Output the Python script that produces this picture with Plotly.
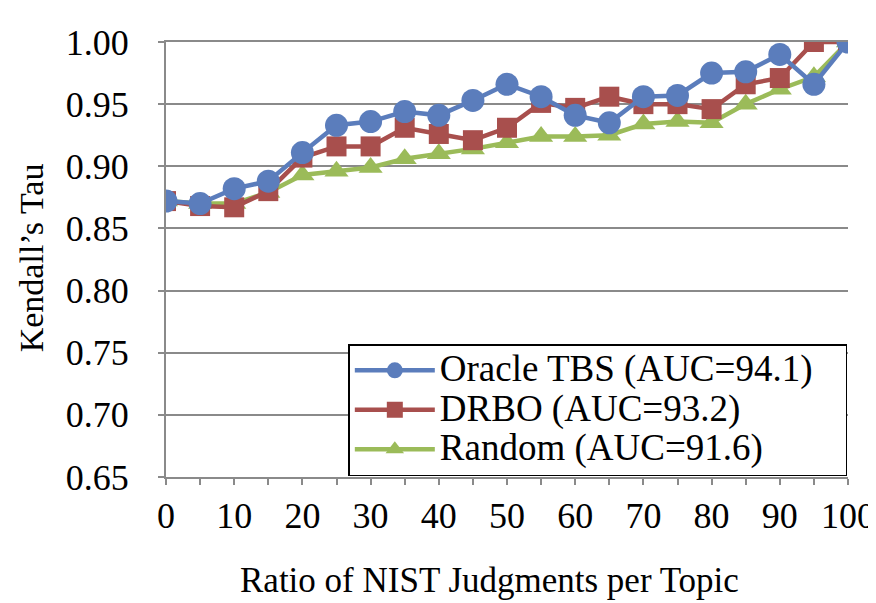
import plotly.graph_objects as go

ratios = [0, 5, 10, 15, 20, 25, 30, 35, 40, 45, 50, 55, 60, 65, 70, 75, 80, 85, 90, 95, 100]
oracle_tbs = [0.872, 0.870, 0.882, 0.888, 0.911, 0.933, 0.936, 0.944, 0.941, 0.953, 0.966,
              0.956, 0.941, 0.935, 0.956, 0.957, 0.975, 0.976, 0.990, 0.966, 1.000]
drbo = [0.872, 0.868, 0.867, 0.880, 0.907, 0.916, 0.916, 0.931, 0.926, 0.921, 0.931,
        0.951, 0.947, 0.956, 0.950, 0.950, 0.946, 0.966, 0.971, 1.000, 1.000]
random_sel = [0.872, 0.870, 0.870, 0.879, 0.893, 0.896, 0.899, 0.906, 0.910, 0.914, 0.919,
              0.924, 0.924, 0.925, 0.934, 0.936, 0.935, 0.950, 0.962, 0.972, 1.000]

names = ["Oracle TBS (AUC=94.1)", "DRBO (AUC=93.2)", "Random (AUC=91.6)"]
y_ticks = [0.65, 0.70, 0.75, 0.80, 0.85, 0.90, 0.95, 1.00]
x_ticks = [0, 10, 20, 30, 40, 50, 60, 70, 80, 90, 100]
x_title = "Ratio of NIST Judgments per Topic"
y_title = "Kendall’s Tau"

FONT = "Liberation Serif"
GRID = "#8a8a8a"


def legend_label(s):
    return '<span style="font-size:37px">' + s + '&nbsp;&nbsp;&nbsp;</span>'


fig = go.Figure()
fig.add_trace(go.Scatter(x=ratios, y=random_sel, name=legend_label(names[2]), mode="lines+markers",
                         line=dict(color="#9BBB59", width=4.5),
                         marker=dict(symbol="triangle-up", size=21, color="#9BBB59")))
fig.add_trace(go.Scatter(x=ratios, y=drbo, name=legend_label(names[1]), mode="lines+markers",
                         line=dict(color="#A84F4D", width=4.5),
                         marker=dict(symbol="square", size=20, color="#A84F4D")))
fig.add_trace(go.Scatter(x=ratios, y=oracle_tbs, name=legend_label(names[0]), mode="lines+markers",
                         line=dict(color="#5B7DBC", width=4.5),
                         marker=dict(symbol="circle", size=23, color="#5B7DBC")))

fig.add_annotation(text=x_title, xref="paper", yref="paper", x=0.475, y=-0.239,
                   xanchor="center", yanchor="middle", showarrow=False,
                   font=dict(family=FONT, size=35, color="black"))
fig.add_annotation(text=y_title, xref="paper", yref="paper", x=-0.198, y=0.505,
                   xanchor="center", yanchor="middle", showarrow=False, textangle=-90,
                   font=dict(family=FONT, size=34, color="black"))

fig.update_layout(
    width=876, height=603,
    margin=dict(l=158, r=36, t=34, b=134, autoexpand=False),
    paper_bgcolor="white", plot_bgcolor="white",
    font=dict(family=FONT, size=36, color="black"),
    legend=dict(x=0.999, y=0.002, xanchor="right", yanchor="bottom",
                bgcolor="white", bordercolor="black", borderwidth=1.5,
                traceorder="reversed", font=dict(family=FONT, size=28), itemwidth=80,
                tracegroupgap=0),
    xaxis=dict(range=[0, 100], tickvals=x_ticks, ticktext=[str(v) for v in x_ticks],
               showgrid=False, showline=True, linecolor=GRID, linewidth=2, mirror=True,
               ticks="outside", tickcolor=GRID, ticklen=6, tickwidth=1.5,
               minor=dict(dtick=5, ticks="outside", ticklen=6, tickcolor=GRID, tickwidth=1.5),
               tickfont=dict(family=FONT, size=36), zeroline=False, ticklabelstandoff=0,
               automargin=False),
    yaxis=dict(range=[0.65, 1.00], tickvals=y_ticks, ticktext=[f"{v:.2f}" for v in y_ticks],
               showgrid=True, gridcolor=GRID, gridwidth=2,
               showline=True, linecolor=GRID, linewidth=2,
               ticks="outside", tickcolor=GRID, ticklen=6, tickwidth=1.5,
               tickfont=dict(family=FONT, size=36), zeroline=False, ticklabelstandoff=22,
               automargin=False),
)

fig.write_html("out.html")
